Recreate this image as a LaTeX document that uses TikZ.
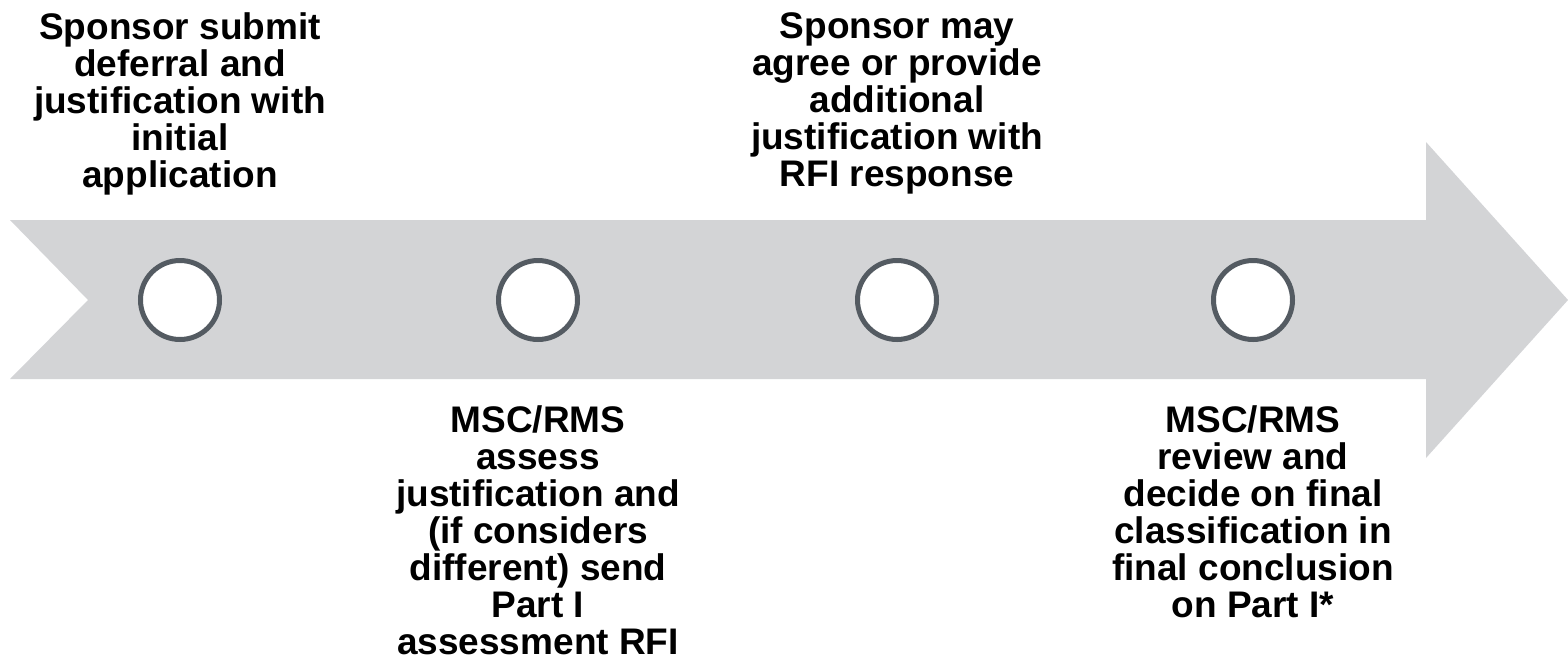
\documentclass[tikz,border=0pt]{standalone}
\usepackage{fontspec}
\setmainfont{Liberation Sans}
\definecolor{bandgray}{HTML}{D3D4D6}
\definecolor{ringgray}{HTML}{545B62}
\begin{document}
\begin{tikzpicture}[x=0.5pt,y=-0.5pt,
  milestone/.style={circle,draw=ringgray,fill=white,line width=2.5pt,
    minimum size=39.5pt,inner sep=0pt},
  caption/.style={align=center,inner sep=0pt,anchor=north,
    font=\fontsize{18.5}{18.5}\selectfont\bfseries,text=black}]
  \useasboundingbox (0,0) rectangle (1568,665);
  % timeline band with notched tail and arrow head
  \fill[bandgray] (10,220) -- (1426,220) -- (1426,142) -- (1568,300)
    -- (1426,458) -- (1426,379) -- (10,379) -- (88,300) -- cycle;
  % milestones
  \node[milestone] (m1) at (180,300) {};
  \node[milestone] (m2) at (538,300) {};
  \node[milestone] (m3) at (897,300) {};
  \node[milestone] (m4) at (1253,300) {};
  % captions
  \node[caption] (t1) at (180,12) {Sponsor submit\\deferral and\\justification with\\initial\\application};
  \node[caption] (t3) at (897,12) {Sponsor may\\agree or provide\\additional\\justification with\\RFI response};
  \node[caption] (t2) at (538,405) {MSC/RMS\\assess\\justification and\\(if considers\\different) send\\Part I\\assessment RFI};
  \node[caption] (t4) at (1253,405) {MSC/RMS\\review and\\decide on final\\classification in\\final conclusion\\on Part I*};
\end{tikzpicture}
\end{document}
